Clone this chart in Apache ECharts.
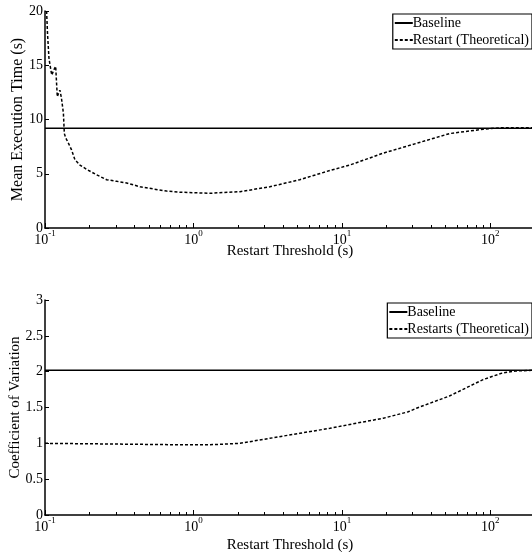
<!DOCTYPE html>
<html>
<head>
<meta charset="utf-8">
<script src="https://cdn.jsdelivr.net/npm/echarts@6/dist/echarts.min.js"></script>
<style>
  html, body { margin: 0; padding: 0; background: #fff; }
  #chart { width: 532px; height: 552px; }
</style>
</head>
<body>
<div id="chart"></div>
<script>
// data
var thresholdTime = [0.1025, 0.104, 0.1064, 0.108, 0.109, 0.111, 0.115, 0.118, 0.121, 0.124, 0.126, 0.129, 0.133, 0.135, 0.138, 0.144, 0.151, 0.159, 0.172, 0.191, 0.223, 0.26, 0.304, 0.355, 0.437, 0.536, 0.66, 0.81, 1.29, 2.06, 3.27, 5.2, 8.3, 11.3, 19, 31.8, 53, 89.5, 120, 200];
var restartTime = [20, 17.9, 15.6, 15.7, 15.5, 14.1, 14.6, 14.9, 12.1, 12.5, 12.7, 12.0, 10.6, 8.7, 8.3, 7.8, 7.2, 6.3, 5.8, 5.4, 4.9, 4.45, 4.3, 4.15, 3.8, 3.6, 3.4, 3.3, 3.2, 3.35, 3.8, 4.45, 5.3, 5.8, 6.9, 7.8, 8.7, 9.1, 9.25, 9.25];
var baselineTime = 9.2;

var thresholdCv = [0.1, 0.3, 0.81, 1.29, 2.06, 3.27, 5.2, 8.3, 13.2, 19, 28, 31.8, 53, 89.5, 120, 148, 200];
var restartCv = [1.0, 0.99, 0.98, 0.98, 1.0, 1.07, 1.14, 1.21, 1.29, 1.35, 1.44, 1.49, 1.66, 1.89, 1.98, 2.01, 2.02];
var baselineCv = 2.02;

var xMin = 0.1, xMax = 200;
var decadeTicks = [0.1, 1, 10, 100];
var minorTicks = [];
decadeTicks.forEach(function (d) {
  for (var k = 2; k <= 9; k++) {
    var v = +(d * k).toPrecision(3);
    if (v < xMax) minorTicks.push(v);
  }
});

var font = "Liberation Serif";

function pairs(xs, ys) {
  return xs.map(function (x, i) { return [x, ys[i]]; });
}

function supLabel(v) {
  var e = Math.round(Math.log10(v));
  return "{base|10}{sup|" + e + "}";
}

function xAxes(gridIndex, nameGap) {
  return [{
    type: "log", logBase: 10, gridIndex: gridIndex, min: xMin, max: xMax, position: "bottom",
    name: "Restart Threshold (s)", nameLocation: "middle", nameGap: nameGap, nameMoveOverlap: false,
    nameTextStyle: { color: "#000", fontFamily: font, fontSize: 15 },
    axisLine: { lineStyle: { color: "#000", width: 1.5 } },
    axisTick: { inside: true, length: 5, customValues: decadeTicks, lineStyle: { color: "#000" } },
    axisLabel: {
      customValues: decadeTicks, formatter: supLabel, margin: 1,
      color: "#000", fontFamily: font, fontSize: 14,
      rich: {
        base: { fontFamily: font, fontSize: 14, color: "#000", lineHeight: 18, verticalAlign: "bottom" },
        sup: { fontFamily: font, fontSize: 9, color: "#000", lineHeight: 10, verticalAlign: "top" }
      }
    },
    splitLine: { show: false }, minorTick: { show: false }
  }, {
    type: "log", logBase: 10, gridIndex: gridIndex, min: xMin, max: xMax, position: "bottom",
    axisLine: { show: false },
    axisTick: { inside: true, length: 3, customValues: minorTicks, lineStyle: { color: "#000" } },
    axisLabel: { show: false },
    splitLine: { show: false }
  }];
}

function yAxis(gridIndex, max, interval, name, nameSize, nameGap) {
  return {
    type: "value", gridIndex: gridIndex, min: 0, max: max, interval: interval,
    name: name, nameLocation: "middle", nameGap: nameGap, nameMoveOverlap: false,
    nameTextStyle: { color: "#000", fontFamily: font, fontSize: nameSize },
    axisLine: { show: true, lineStyle: { color: "#000", width: 1.5 } },
    axisTick: { show: true, inside: true, length: 4, lineStyle: { color: "#000" } },
    axisLabel: { margin: 2, color: "#000", fontFamily: font, fontSize: 14 },
    splitLine: { show: false }
  };
}

function legendBox(top, names) {
  return {
    data: names, orient: "vertical", right: 0, top: top,
    backgroundColor: "#fff", borderColor: "#000", borderWidth: 1.2,
    padding: [2, 3, 2, 1], itemGap: 3, itemWidth: 18, itemHeight: 14,
    itemStyle: { color: "rgba(0,0,0,0)", borderWidth: 0 },
    textStyle: { color: "#000", fontFamily: font, fontSize: 14, padding: [0, 0, 0, -5] }
  };
}

var solid = { color: "#000", width: 1.5, type: "solid" };
var dashed = { color: "#000", width: 1.5, type: [3, 2] };

var chart = echarts.init(document.getElementById("chart"), null, { renderer: "canvas" });
chart.setOption({
  animation: false,
  backgroundColor: "#fff",
  grid: [
    { left: 45, top: 11, width: 490, height: 217, containLabel: false, outerBoundsMode: "none" },
    { left: 45, top: 300, width: 490, height: 215, containLabel: false, outerBoundsMode: "none" }
  ],
  xAxis: xAxes(0, 16).concat(xAxes(1, 23)),
  yAxis: [
    yAxis(0, 20, 5, "Mean Execution Time (s)", 16, 19),
    yAxis(1, 3, 0.5, "Coefficient of Variation", 15, 22)
  ],
  legend: [
    legendBox(14, ["Baseline", "Restart (Theoretical)"]),
    legendBox(303, ["Baseline ", "Restarts (Theoretical)"])
  ],
  series: [
    { name: "Baseline", type: "line", xAxisIndex: 0, yAxisIndex: 0, symbol: "none",
      lineStyle: solid, itemStyle: { color: "#000" },
      data: [[xMin, baselineTime], [xMax, baselineTime]] },
    { name: "Restart (Theoretical)", type: "line", xAxisIndex: 0, yAxisIndex: 0, symbol: "none",
      lineStyle: dashed, itemStyle: { color: "#000" },
      data: pairs(thresholdTime, restartTime) },
    { name: "Baseline ", type: "line", xAxisIndex: 2, yAxisIndex: 1, symbol: "none",
      lineStyle: solid, itemStyle: { color: "#000" },
      data: [[xMin, baselineCv], [xMax, baselineCv]] },
    { name: "Restarts (Theoretical)", type: "line", xAxisIndex: 2, yAxisIndex: 1, symbol: "none",
      lineStyle: dashed, itemStyle: { color: "#000" },
      data: pairs(thresholdCv, restartCv) }
  ]
});
</script>
</body>
</html>
